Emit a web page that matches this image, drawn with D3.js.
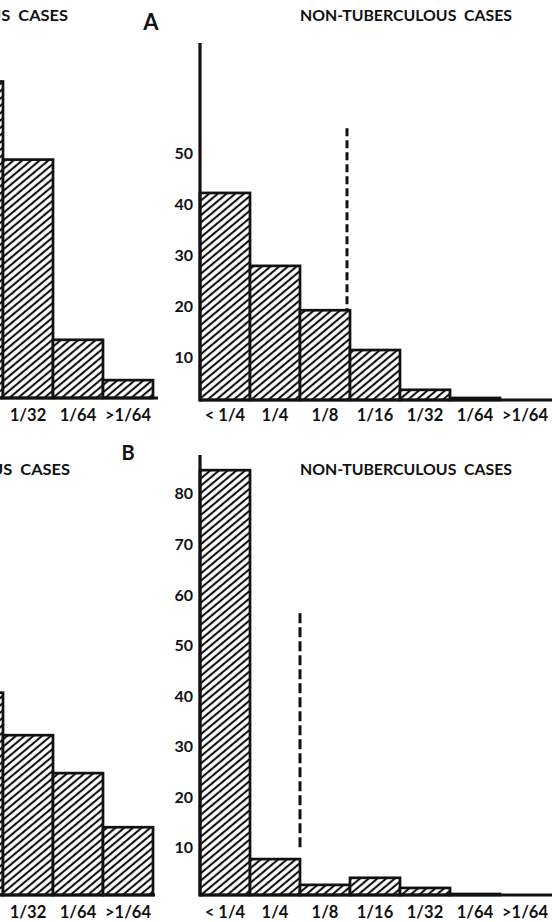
<!DOCTYPE html>
<html><head><meta charset="utf-8">
<script src="https://cdn.jsdelivr.net/npm/d3@7"></script>
<style>html,body{margin:0;padding:0;background:#fff;overflow:hidden}</style>
</head><body>
<script>
// ---- data ----
const categories = ["< 1/4","1/4","1/8","1/16","1/32","1/64",">1/64"];
const nonTbA = [40.6, 26.3, 17.6, 9.8, 2.0, 0.4, 0];
const nonTbB = [84, 7.1, 2.0, 3.4, 1.4, 0.2, 0];
const tbA = [null, null, null, 62, 46.7, 11.4, 3.5];
const tbB = [null, null, null, 40, 31.6, 24.1, 13.4];
const tbLabelsShown = ["1/32", "1/64", ">1/64"];
const ticksA = [10, 20, 30, 40, 50];
const ticksB = [10, 20, 30, 40, 50, 60, 70, 80];
const cutoffA = {after: "1/8", from: 53.3, to: 17.6};
const cutoffB = {after: "1/4", from: 55.7, to: 8.9};
const titleNon = "NON-TUBERCULOUS  CASES";
const titleTb = "TUBERCULOUS  CASES";

const W = 557, H = 922;
const svg = d3.select("body").append("svg").attr("width", W).attr("height", H)
  .style("font-family", "Lato, 'DejaVu Sans', sans-serif").style("font-weight", "bold");
svg.append("rect").attr("width", W).attr("height", H).attr("fill", "#fff");

const defs = svg.append("defs");
const pat = defs.append("pattern").attr("id", "hatch").attr("patternUnits", "userSpaceOnUse")
  .attr("width", 10).attr("height", 5.6).attr("patternTransform", "rotate(-40)");
pat.append("rect").attr("width", 10).attr("height", 5.6).attr("fill", "#fff");
pat.append("line").attr("x1", 0).attr("x2", 10).attr("y1", 2.8).attr("y2", 2.8)
  .attr("stroke", "#111").attr("stroke-width", 2.1);

function panel(opt) {
  const x = d3.scaleBand().domain(categories).range([opt.x0, opt.x0 + 350]).padding(0);
  const y = d3.scaleLinear().domain([0, opt.ymax]).range([opt.base, opt.top]);
  const g = svg.append("g");
  const data = categories.map((c, i) => ({c, v: opt.values[i]})).filter(d => d.v !== null);
  g.selectAll("rect.bar").data(data).enter().append("rect").attr("class", "bar")
    .attr("x", d => x(d.c)).attr("width", x.bandwidth())
    .attr("y", d => y(d.v)).attr("height", d => opt.base - y(d.v))
    .attr("fill", "url(#hatch)").attr("stroke", "#111").attr("stroke-width", 2.7);
  g.append("line").attr("x1", opt.x0).attr("x2", opt.x0 + opt.axisLen)
    .attr("y1", opt.base).attr("y2", opt.base).attr("stroke", "#111").attr("stroke-width", 3);
  g.append("line").attr("x1", opt.x0).attr("x2", opt.x0)
    .attr("y1", opt.base + 1.5).attr("y2", opt.top).attr("stroke", "#111").attr("stroke-width", 3.2);
  if (opt.showTicks) {
    g.selectAll("text.yt").data(opt.ticks).enter().append("text").attr("class", "yt")
      .attr("x", opt.x0 - 7).attr("y", d => y(d) + opt.labelDy)
      .attr("text-anchor", "end").attr("dominant-baseline", "central")
      .attr("font-size", 16).attr("fill", "#111").text(d => d);
  }
  g.selectAll("text.xt").data(opt.xlabels).enter().append("text").attr("class", "xt")
    .attr("x", d => x(d) + x.bandwidth() / 2).attr("y", opt.base + opt.xlabDy)
    .attr("text-anchor", "middle").attr("font-size", 16.5).attr("fill", "#111")
    .text(d => d);
  if (opt.cutoff) {
    const cx = x(opt.cutoff.after) + x.bandwidth() + opt.cutoff.dx;
    g.append("line").attr("x1", cx).attr("x2", cx)
      .attr("y1", y(opt.cutoff.from)).attr("y2", y(opt.cutoff.to))
      .attr("stroke", "#111").attr("stroke-width", 3).attr("stroke-dasharray", opt.cutoff.dash);
  }
  g.append("text").attr("x", opt.titleX).attr("y", opt.titleY)
    .attr("text-anchor", opt.titleAnchor).attr("font-size", 16).attr("fill", "#111")
    .attr("xml:space", "preserve").style("white-space", "pre")
    .attr("textLength", opt.titleLen).attr("lengthAdjust", "spacingAndGlyphs")
    .text(opt.title);
}

// Panel A (top)
panel({x0: -197, base: 398, top: -40, ymax: 85.8, values: tbA, ticks: ticksA, labelDy: 7,
  xlabDy: 23, axisLen: 355, xlabels: tbLabelsShown, showTicks: false,
  title: titleTb, titleX: 68, titleY: 21, titleAnchor: "end", titleLen: 176});
panel({x0: 200, base: 400, top: 43, ymax: 70, values: nonTbA, ticks: ticksA, labelDy: 7,
  xlabDy: 21, axisLen: 352, xlabels: categories, showTicks: true,
  title: titleNon, titleX: 300, titleY: 21, titleAnchor: "start", titleLen: 212,
  cutoff: Object.assign({dx: -3, dash: "8,4"}, cutoffA)});
// Panel B (bottom)
panel({x0: -197, base: 895, top: 455, ymax: 87, values: tbB, ticks: ticksB, labelDy: 2.5,
  xlabDy: 23, axisLen: 352, xlabels: tbLabelsShown, showTicks: false,
  title: titleTb, titleX: 70, titleY: 475, titleAnchor: "end", titleLen: 176});
panel({x0: 200, base: 895, top: 455, ymax: 87, values: nonTbB, ticks: ticksB, labelDy: 2.5,
  xlabDy: 23, axisLen: 352, xlabels: categories, showTicks: true,
  title: titleNon, titleX: 300, titleY: 475, titleAnchor: "start", titleLen: 212,
  cutoff: Object.assign({dx: 0, dash: "10,4"}, cutoffB)});

svg.append("text").attr("x", 151).attr("y", 30).attr("text-anchor", "middle")
  .attr("font-size", 22).attr("fill", "#111").text("A");
svg.append("text").attr("x", 128).attr("y", 460).attr("text-anchor", "middle")
  .attr("font-size", 20).attr("fill", "#111").text("B");
</script>
</body></html>
